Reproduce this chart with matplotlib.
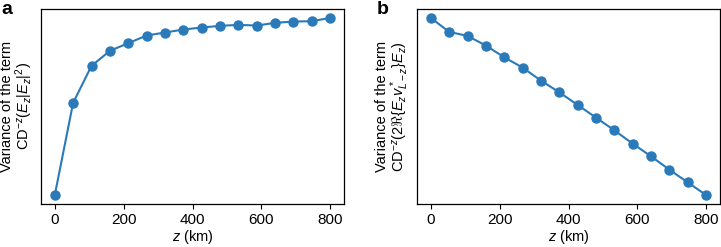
import numpy as np
import matplotlib
matplotlib.use('Agg')
import matplotlib.pyplot as plt

plt.rcParams['font.family'] = ['Liberation Sans', 'DejaVu Sans']
plt.rcParams['mathtext.fontset'] = 'custom'
plt.rcParams['mathtext.rm'] = 'Liberation Sans'
plt.rcParams['mathtext.it'] = 'Liberation Sans:italic'
plt.rcParams['mathtext.bf'] = 'Liberation Sans:bold'
plt.rcParams['font.size'] = 10.5

# depth positions (km)
z_km = [0, 53.3, 106.7, 160, 213.3, 266.7, 320, 373.3, 426.7, 480,
        533.3, 586.7, 640, 693.3, 746.7, 800]

# variance of |E|^2 term (arbitrary units, no y scale shown)
var_a = [0.15, 2.92, 4.03, 4.48, 4.71, 4.94, 5.03, 5.12, 5.18, 5.23,
         5.26, 5.24, 5.32, 5.36, 5.37, 5.47]

# variance of cross term (arbitrary units)
var_b = [5.47, 5.05, 4.93, 4.64, 4.29, 3.98, 3.59, 3.24, 2.86, 2.48,
         2.10, 1.70, 1.32, 0.92, 0.54, 0.16]

ylabel_a = 'Variance of the term\n' + r'CD$^{-z}$($E_z|E_z|^2$)'
ylabel_b = 'Variance of the term\n' + r'CD$^{-z}$(2$\Re\{E_z v^*_{L-z}\}E_z$)'

W, H = 721, 247
fig = plt.figure(figsize=(W / 100, H / 100), dpi=100)
ax1 = fig.add_axes([41 / W, (H - 204) / H, 303 / W, 195 / H])
ax2 = fig.add_axes([417 / W, (H - 204) / H, 303 / W, 195 / H])

col = '#2a7ab9'
for ax, y, lab in [(ax1, var_a, ylabel_a), (ax2, var_b, ylabel_b)]:
    ax.plot(z_km, y, '-o', color=col, lw=1.5, ms=6.5)
    ax.set_yticks([])
    ax.set_xticks([0, 200, 400, 600, 800])
    ax.set_xlabel(r'$z$ (km)', labelpad=1)
    ax.set_ylabel(lab, linespacing=1.0, labelpad=4)
    ax.tick_params(axis='x', length=3.5, width=0.8, pad=3, labelsize=11)
    for s in ax.spines.values():
        s.set_linewidth(0.9)

fig.text(1 / W, 1 - 1 / H, 'a', fontsize=14, fontweight='bold', va='top', ha='left')
fig.text(377 / W, 1 - 1 / H, 'b', fontsize=14, fontweight='bold', va='top', ha='left')

fig.savefig('out.png', dpi=100)
